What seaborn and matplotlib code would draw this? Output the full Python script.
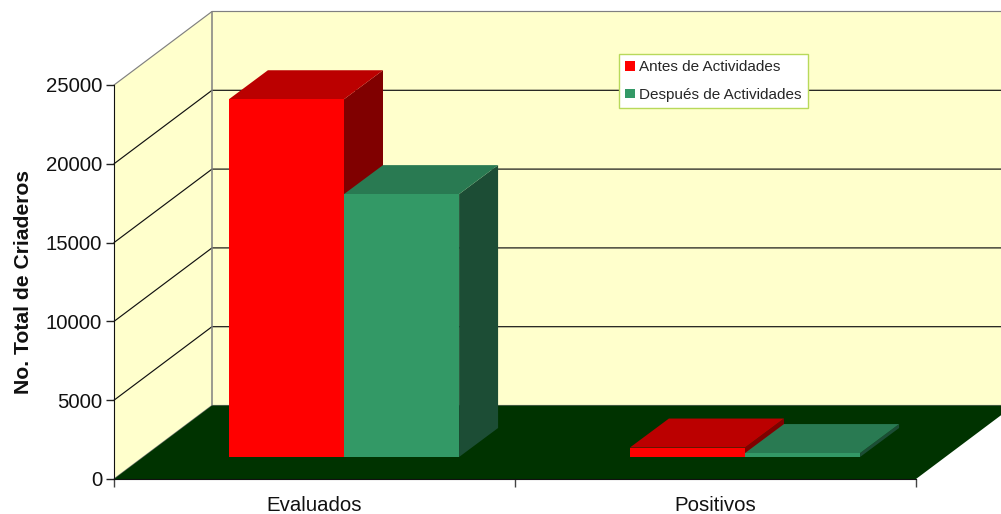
import numpy as np
import pandas as pd
import seaborn as sns
import matplotlib.pyplot as plt
from matplotlib.patches import Polygon
from matplotlib.transforms import Affine2D, IdentityTransform

categories = ["Evaluados", "Positivos"]
series_names = ["Antes de Actividades", "Después de Actividades"]
antes = [22700, 600]
despues = [16680, 250]
y_ticks = [0, 5000, 10000, 15000, 20000, 25000]

front_colors = ["#ff0000", "#339966"]
top_colors = ["#bb0000", "#297a52"]
side_colors = ["#800000", "#1c4d35"]

# profundidad en pixeles
wall_dx, wall_dy = 98, 73.5
bar_dx, bar_dy = 29.5, 22
depth_dx, depth_dy = 39, 29

df = pd.DataFrame({"categoria": categories * 2,
                   "serie": [series_names[0]] * 2 + [series_names[1]] * 2,
                   "valor": antes + despues})

sns.set_style("white")
plt.rcParams["font.family"] = ["Liberation Sans", "DejaVu Sans"]

fig = plt.figure(figsize=(10.01, 5.14), dpi=100)
ax = fig.add_axes([114 / 1001, 35 / 514, 802 / 1001, 394 / 514])
ax.set_xlim(-0.5, 1.5)
ax.set_ylim(0, 25000)
ax.patch.set_visible(False)


def px(x, y, dx=0, dy=0):
    p = ax.transData.transform((x, y))
    return (p[0] + dx, p[1] + dy)


def poly(points, color, z, edge="none", lw=0):
    ax.add_patch(Polygon(points, closed=True, facecolor=color, edgecolor=edge, linewidth=lw,
                         transform=IdentityTransform(), clip_on=False, zorder=z))


##PAREDES Y PISO
far_right = 1.5
poly([px(-0.5, 0, wall_dx, wall_dy), px(far_right, 0, wall_dx, wall_dy),
      px(far_right, 25000, wall_dx, wall_dy), px(-0.5, 25000, wall_dx, wall_dy)], "#ffffcc", 0.1)
poly([px(-0.5, 0), px(-0.5, 0, wall_dx, wall_dy), px(-0.5, 25000, wall_dx, wall_dy), px(-0.5, 25000)],
     "#ffffcc", 0.1)

##LINEAS DE GRILLA
for t in y_ticks:
    color = "#808080" if t in (0, 25000) else "#111111"
    a = px(-0.5, t)
    b = px(-0.5, t, wall_dx, wall_dy)
    c = px(far_right, t, wall_dx, wall_dy)
    ax.plot([a[0], b[0], c[0]], [a[1], b[1], c[1]], color=color, lw=0.85, clip_on=False,
            transform=IdentityTransform(), zorder=0.2)
a = px(-0.5, 0, wall_dx, wall_dy)
b = px(-0.5, 25000, wall_dx, wall_dy)
ax.plot([a[0], b[0]], [a[1], b[1]], color="#808080", lw=1.1, transform=IdentityTransform(),
        clip_on=False, zorder=0.2)

poly([px(-0.5, 0), px(far_right, 0), px(far_right, 0, wall_dx, wall_dy), px(-0.5, 0, wall_dx, wall_dy)],
     "#003300", 0.3)

##BARRAS
sns.barplot(data=df, x="categoria", y="valor", hue="serie", order=categories, hue_order=series_names,
            palette=front_colors, width=0.574, gap=0, saturation=1, linewidth=0, ax=ax, legend=True)
ax.set_xlim(-0.5, 1.5)
ax.set_ylim(0, 25000)

shift = Affine2D().translate(bar_dx, bar_dy)
bars = list(ax.patches)
bars = [b for b in bars if isinstance(b, plt.Rectangle) and b.get_width() > 0 and b.get_height() > 0]
bars = sorted(bars, key=lambda b: b.get_x())

z = 2.0
for i, b in enumerate(bars):
    s = 0 if b.get_facecolor()[1] == 0 else 1
    x0, x1 = b.get_x(), b.get_x() + b.get_width()
    h = b.get_height()
    poly([px(x1, 0, bar_dx, bar_dy), px(x1, 0, bar_dx + depth_dx, bar_dy + depth_dy),
          px(x1, h, bar_dx + depth_dx, bar_dy + depth_dy), px(x1, h, bar_dx, bar_dy)],
         side_colors[s], z)
    poly([px(x0, h, bar_dx, bar_dy), px(x1, h, bar_dx, bar_dy),
          px(x1, h, bar_dx + depth_dx, bar_dy + depth_dy), px(x0, h, bar_dx + depth_dx, bar_dy + depth_dy)],
         top_colors[s], z + 0.1)
    b.set_transform(ax.transData + shift)
    b.set_clip_on(False)
    b.set_zorder(z + 0.2)
    z += 1

##EJES
ax.set_yticks(y_ticks)
ax.set_xticks([-0.5, 0.5, 1.5], labels=["", "", ""])
ax.set_xticks([0, 1], labels=categories, minor=True)
ax.tick_params(axis="y", which="major", left=True, length=6, width=1, color="#222222", labelsize=14.7, pad=2.5, labelcolor="#111111")
ax.tick_params(axis="x", which="major", bottom=True, length=6, width=1, color="#444444")
ax.tick_params(axis="x", which="minor", bottom=False, length=0, labelsize=14.7, pad=12, labelcolor="#111111")
ax.set_xlabel("")
ax.set_ylabel("No. Total de Criaderos", fontsize=15.2, fontweight="bold", color="#111111")
ax.yaxis.set_label_coords(-0.1015, 0.5, transform=ax.transAxes)
sns.despine(ax=ax, top=True, right=True)
ax.spines["left"].set_color("#111111")
ax.spines["bottom"].set_color("#111111")
ax.spines["left"].set_zorder(50)
ax.spines["bottom"].set_zorder(50)

##LEYENDA
handles, labels = ax.get_legend_handles_labels()
leg = ax.legend(handles, labels, loc="upper left", bbox_to_anchor=(619 / 1001, 1 - 54 / 514),
                bbox_transform=fig.transFigure, fontsize=11, handlelength=0.62, handleheight=0.62,
                handletextpad=0.3, labelspacing=0.88, borderpad=0.42, borderaxespad=0, fancybox=False,
                framealpha=1, facecolor="white", edgecolor="#b8d95b", title=None)
leg.get_frame().set_linewidth(1)
leg.set_zorder(60)

fig.savefig("out.png", dpi=100)
